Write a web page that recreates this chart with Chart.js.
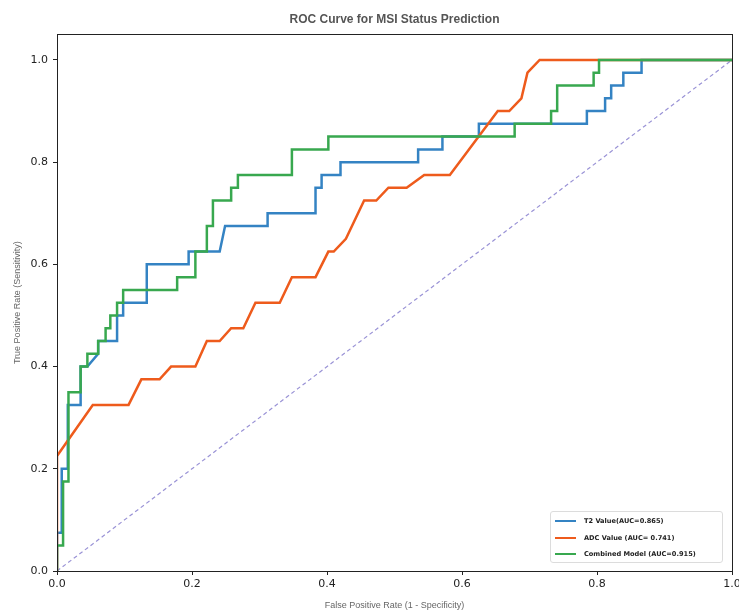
<!DOCTYPE html>
<html>
<head>
<meta charset="utf-8">
<title>ROC Curve for MSI Status Prediction</title>
<script src="https://cdn.jsdelivr.net/npm/chart.js@4.4.1/dist/chart.umd.min.js"></script>
<style>
    body { margin: 0; background: #fff; }
    #wrap { position: relative; width: 739px; height: 612px; overflow: hidden; }
    #legend {
        position: absolute; left: 550px; top: 511px; width: 173px; height: 52px;
        border: 1px solid #dcdcdc; border-radius: 3px; background: rgba(255,255,255,0.9);
        box-sizing: border-box;
    }
    .row { position: absolute; left: 0; height: 12px; display: flex; align-items: center; }
    .row span.swatch { display: inline-block; width: 21px; height: 2.5px; margin-left: 4px; margin-right: 8px; }
    .row span.txt { font: bold 6.6px "DejaVu Sans", sans-serif; color: #222; white-space: nowrap; }
</style>
</head>
<body>
<div id="wrap">
    <canvas id="roc" width="739" height="612"></canvas>
    <div id="legend"></div>
</div>
<script>
// ROC points (false positive rate / true positive rate)
const t2Fpr = [0, 0, 0.007, 0.007, 0.016, 0.016, 0.035, 0.035, 0.045, 0.061, 0.061, 0.089, 0.089, 0.098, 0.098, 0.133, 0.133, 0.195, 0.195, 0.241, 0.249, 0.312, 0.312, 0.383, 0.383, 0.392, 0.392, 0.42, 0.42, 0.535, 0.535, 0.571, 0.571, 0.625, 0.625, 0.785, 0.785, 0.812, 0.812, 0.821, 0.821, 0.839, 0.839, 0.866, 0.866, 1];
const t2Tpr = [0, 0.075, 0.075, 0.2, 0.2, 0.325, 0.325, 0.4, 0.4, 0.425, 0.45, 0.45, 0.5, 0.5, 0.525, 0.525, 0.6, 0.6, 0.625, 0.625, 0.675, 0.675, 0.7, 0.7, 0.75, 0.75, 0.775, 0.775, 0.8, 0.8, 0.825, 0.825, 0.85, 0.85, 0.875, 0.875, 0.9, 0.9, 0.925, 0.925, 0.95, 0.95, 0.975, 0.975, 1, 1];

const adcFpr = [0, 0, 0.053, 0.106, 0.125, 0.152, 0.169, 0.205, 0.222, 0.241, 0.258, 0.276, 0.294, 0.33, 0.348, 0.383, 0.402, 0.41, 0.428, 0.455, 0.473, 0.491, 0.518, 0.544, 0.582, 0.653, 0.67, 0.688, 0.697, 0.715, 1];
const adcTpr = [0, 0.225, 0.325, 0.325, 0.375, 0.375, 0.4, 0.4, 0.45, 0.45, 0.475, 0.475, 0.525, 0.525, 0.575, 0.575, 0.625, 0.625, 0.65, 0.725, 0.725, 0.75, 0.75, 0.775, 0.775, 0.9, 0.9, 0.925, 0.975, 1, 1];

const combFpr = [0, 0, 0.009, 0.009, 0.017, 0.017, 0.035, 0.035, 0.045, 0.045, 0.061, 0.061, 0.072, 0.072, 0.079, 0.079, 0.089, 0.089, 0.098, 0.098, 0.178, 0.178, 0.205, 0.205, 0.222, 0.222, 0.231, 0.231, 0.258, 0.258, 0.268, 0.268, 0.348, 0.348, 0.402, 0.402, 0.678, 0.678, 0.732, 0.732, 0.741, 0.741, 0.795, 0.795, 0.803, 0.803, 1];
const combTpr = [0, 0.05, 0.05, 0.175, 0.175, 0.35, 0.35, 0.4, 0.4, 0.425, 0.425, 0.45, 0.45, 0.475, 0.475, 0.5, 0.5, 0.525, 0.525, 0.55, 0.55, 0.575, 0.575, 0.625, 0.625, 0.675, 0.675, 0.725, 0.725, 0.75, 0.75, 0.775, 0.775, 0.825, 0.825, 0.85, 0.85, 0.875, 0.875, 0.9, 0.9, 0.95, 0.95, 0.975, 0.975, 1, 1];

const chanceLine = [0, 1];

const seriesNames = ['T2 Value(AUC=0.865)', 'ADC Value (AUC= 0.741)', 'Combined Model (AUC=0.915)'];
const seriesColors = ['#3483c3', '#ee5b1c', '#38a84f'];
const xTicks = [0, 0.2, 0.4, 0.6, 0.8, 1.0];

const toPoints = (xs, ys) => xs.map((x, i) => ({ x: x, y: ys[i] }));

// Frame around the plot area (matplotlib style box)
const frame = {
    id: 'frame',
    afterDatasetsDraw(chart) {
        const { ctx, chartArea } = chart;
        ctx.save();
        ctx.strokeStyle = '#222';
        ctx.lineWidth = 1;
        ctx.strokeRect(Math.round(chartArea.left) + 0.5, Math.round(chartArea.top) + 0.5,
            Math.round(chartArea.right - chartArea.left), Math.round(chartArea.bottom - chartArea.top));
        ctx.restore();
    }
};

const lineSet = (label, data, color, order) => ({
    label: label,
    data: data,
    borderColor: color,
    backgroundColor: color,
    borderWidth: 2.5,
    pointRadius: 0,
    tension: 0,
    fill: false,
    order: order
});

new Chart(document.getElementById('roc'), {
    type: 'line',
    data: {
        datasets: [
            lineSet(seriesNames[0], toPoints(t2Fpr, t2Tpr), seriesColors[0], 3),
            lineSet(seriesNames[1], toPoints(adcFpr, adcTpr), seriesColors[1], 2),
            lineSet(seriesNames[2], toPoints(combFpr, combTpr), seriesColors[2], 1),
            {
                label: 'chance',
                data: toPoints(chanceLine, chanceLine),
                borderColor: '#9a93d6',
                borderWidth: 1.2,
                borderDash: [4, 3],
                pointRadius: 0,
                order: 4
            }
        ]
    },
    options: {
        responsive: false,
        animation: false,
        layout: { padding: { top: 0, right: 7, bottom: 0, left: 0 } },
        plugins: {
            legend: { display: false },
            tooltip: { enabled: false },
            title: {
                display: true,
                fullSize: false,
                text: 'ROC Curve for MSI Status Prediction',
                color: '#555',
                font: { family: 'Liberation Sans', size: 12, weight: 'bold' },
                padding: { top: 12, bottom: 8 }
            }
        },
        scales: {
            x: {
                type: 'linear',
                min: 0,
                max: 1,
                afterBuildTicks: (scale) => { scale.ticks = xTicks.map(v => ({ value: v })); },
                afterFit: (scale) => { scale.height = 41; scale.paddingLeft = 0; scale.paddingRight = 0; },
                ticks: {
                    color: '#222',
                    padding: 3,
                    maxRotation: 0,
                    font: { family: 'DejaVu Sans', size: 11 },
                    callback: (v) => Number(v).toFixed(1)
                },
                grid: { drawOnChartArea: false, drawTicks: true, tickLength: 4, tickColor: '#222' },
                border: { display: true, color: '#222', width: 1 },
                title: {
                    display: true,
                    text: 'False Positive Rate (1 - Specificity)',
                    color: '#666',
                    font: { family: 'Liberation Sans', size: 9 },
                    padding: { top: 0, bottom: 1 }
                }
            },
            y: {
                type: 'linear',
                min: 0,
                max: 1.05,
                afterFit: (scale) => { scale.width = 57; scale.paddingTop = 0; scale.paddingBottom = 0; },
                ticks: {
                    stepSize: 0.2,
                    includeBounds: false,
                    color: '#222',
                    padding: 5,
                    font: { family: 'DejaVu Sans', size: 11 },
                    callback: (v) => Number(v).toFixed(1)
                },
                grid: { drawOnChartArea: false, drawTicks: true, tickLength: 4, tickColor: '#222' },
                border: { display: true, color: '#222', width: 1 },
                title: {
                    display: true,
                    text: 'True Positive Rate (Sensitivity)',
                    color: '#666',
                    font: { family: 'Liberation Sans', size: 9 },
                    padding: { top: 12, bottom: 0 }
                }
            }
        }
    },
    plugins: [frame]
});

// Legend box in the lower right corner
const legendBox = document.getElementById('legend');
const rowTops = [3, 20, 36];
seriesNames.forEach((name, i) => {
    const row = document.createElement('div');
    row.className = 'row';
    row.style.top = rowTops[i] + 'px';
    row.innerHTML = `<span class="swatch" style="background:${seriesColors[i]}"></span><span class="txt">${name}</span>`;
    legendBox.appendChild(row);
});
</script>
</body>
</html>
